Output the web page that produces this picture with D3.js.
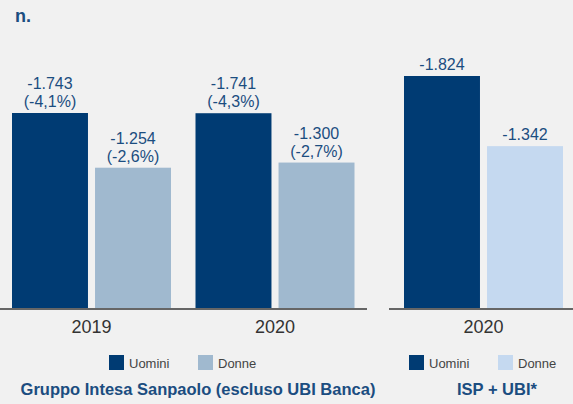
<!DOCTYPE html>
<html>
<head>
<meta charset="utf-8">
<script src="https://cdn.jsdelivr.net/npm/d3@7"></script>
<style>
  body { margin: 0; background: #f1f1f1; }
</style>
</head>
<body>
<svg id="chart" width="573" height="404" font-family="Arial, 'Liberation Sans', Helvetica, sans-serif"></svg>
<script>
const years = ["2019", "2020"];
const genders = ["Uomini", "Donne"];
const uomini = [-1743, -1741];
const donne = [-1254, -1300];
const uominiPct = [-4.1, -4.3];
const donnePct = [-2.6, -2.7];
const ubiYears = ["2020"];
const ubiUomini = [-1824];
const ubiDonne = [-1342];

const svg = d3.select("#chart");
const width = +svg.attr("width");
const height = +svg.attr("height");
const baseY = 308;
const blue = "#1b4d80";

const it = d3.formatLocale({ decimal: ",", thousands: ".", grouping: [3], currency: ["€", ""], minus: "-" });
const fmtN = it.format(",d");
const fmtP = it.format(".1f");

svg.append("rect").attr("width", width).attr("height", height).attr("fill", "#f1f1f1");

svg.append("text")
    .attr("x", 15).attr("y", 22)
    .attr("fill", blue)
    .style("font-size", "18px")
    .style("font-weight", "bold")
    .text("n.");

function drawPanel(opts) {
    const g = svg.append("g");
    const x0 = d3.scaleBand().domain(opts.cats).range(opts.range).padding(0);
    const x1 = d3.scaleBand().domain(genders).range([opts.inner, opts.inner + 159]).paddingInner(0.085);
    const y = opts.y;

    const rows = opts.cats.map((c, i) => ({
        cat: c,
        bars: [
            { key: "Uomini", v: opts.u[i], p: opts.up ? opts.up[i] : null },
            { key: "Donne", v: opts.d[i], p: opts.dp ? opts.dp[i] : null }
        ]
    }));

    const grp = g.selectAll(".grp").data(rows).join("g")
        .attr("class", "grp")
        .attr("transform", d => `translate(${x0(d.cat)},0)`);

    grp.selectAll("rect").data(d => d.bars).join("rect")
        .attr("x", d => x1(d.key))
        .attr("width", x1.bandwidth())
        .attr("y", d => y(-d.v))
        .attr("height", d => baseY - y(-d.v))
        .attr("fill", d => d.key === "Uomini" ? "#003b73" : opts.donneColor);

    const lab = grp.selectAll(".lab").data(d => d.bars).join("text")
        .attr("class", "lab")
        .attr("text-anchor", "middle")
        .attr("fill", blue)
        .style("font-size", "16px")
        .attr("x", d => x1(d.key) + x1.bandwidth() / 2)
        .attr("y", d => y(-d.v) - (d.p !== null ? 24 : 6));
    lab.append("tspan").text(d => fmtN(d.v));
    lab.filter(d => d.p !== null).append("tspan")
        .attr("x", d => x1(d.key) + x1.bandwidth() / 2)
        .attr("dy", 18)
        .text(d => "(" + fmtP(d.p) + "%)");

    grp.append("text")
        .attr("text-anchor", "middle")
        .attr("x", (x1("Uomini") + x1("Donne") + x1.bandwidth()) / 2)
        .attr("y", 333)
        .attr("fill", "#333")
        .style("font-size", "18px")
        .text(d => d.cat);

    g.append("line")
        .attr("x1", opts.range[0]).attr("x2", opts.range[1])
        .attr("y1", baseY + 1).attr("y2", baseY + 1)
        .attr("stroke", "#666").attr("stroke-width", 2);

    // legend
    const leg = g.selectAll(".leg").data(genders).join("g")
        .attr("class", "leg")
        .attr("transform", (d, i) => `translate(${opts.legX + i * 89},355)`);
    leg.append("rect").attr("width", 15).attr("height", 15)
        .attr("fill", d => d === "Uomini" ? "#003b73" : opts.donneColor);
    leg.append("text").attr("x", 20).attr("y", 13)
        .attr("fill", "#444").style("font-size", "13px")
        .text(d => d);

    g.append("text")
        .attr("text-anchor", "middle")
        .attr("x", opts.titleX).attr("y", 395)
        .attr("fill", blue)
        .style("font-size", "16.5px")
        .style("font-weight", "bold")
        .text(opts.title);
}

drawPanel({
    cats: years, u: uomini, d: donne, up: uominiPct, dp: donnePct,
    range: [0, 367], inner: 12,
    y: d3.scaleLinear().domain([0, 1743]).range([baseY, 113]),
    donneColor: "#a0b9cf", legX: 109, titleX: 198,
    title: "Gruppo Intesa Sanpaolo (escluso UBI Banca)"
});

drawPanel({
    cats: ubiYears, u: ubiUomini, d: ubiDonne,
    range: [389, 573], inner: 15,
    y: d3.scaleLinear().domain([230, 1824]).range([baseY, 76]),
    donneColor: "#c5d9f0", legX: 409, titleX: 497,
    title: "ISP + UBI*"
});
</script>
</body>
</html>
